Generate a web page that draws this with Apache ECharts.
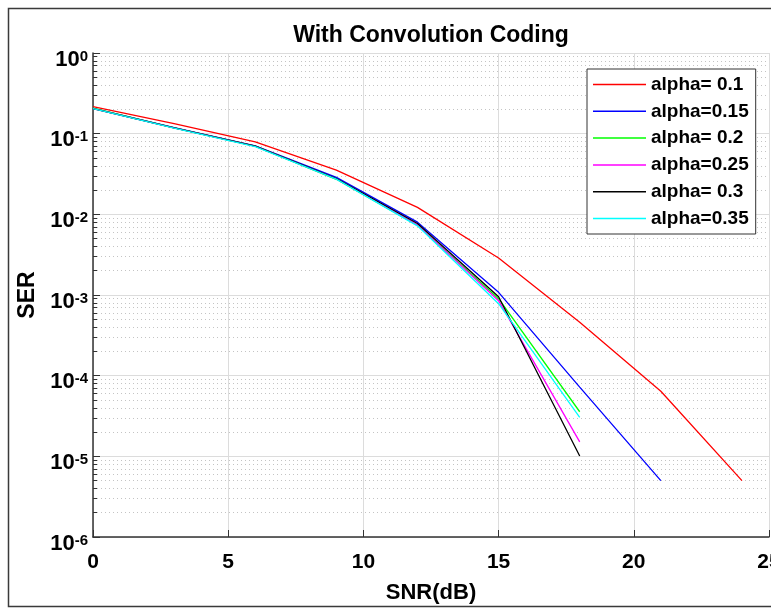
<!DOCTYPE html>
<html>
<head>
<meta charset="utf-8">
<script src="https://cdn.jsdelivr.net/npm/echarts@6/dist/echarts.min.js"></script>
<style>
  html, body { margin: 0; padding: 0; background: #fff; }
  #chart { width: 771px; height: 608px; }
</style>
</head>
<body>
<div id="chart"></div>
<script>
// SNR points (dB)
var snr = [0, 3, 6, 9, 12, 15, 18, 21, 24];

// SER, one array per roll-off factor
var ser01  = [0.216, 0.133, 0.079, 0.0353, 0.0122, 0.00288, 0.00046, 0.000064, 0.000005];
var ser015 = [0.206, 0.119, 0.0705, 0.0287, 0.0080, 0.00108, 0.000072, 0.000005];
var ser02  = [0.207, 0.118, 0.070, 0.0272, 0.0073, 0.00090, 0.0000357];
var ser025 = [0.205, 0.118, 0.070, 0.0275, 0.0074, 0.00085, 0.0000151];
var ser03  = [0.205, 0.118, 0.070, 0.0278, 0.0077, 0.00095, 0.0000101];
var ser035 = [0.205, 0.117, 0.069, 0.0273, 0.0072, 0.00078, 0.0000304];

var names = ['alpha= 0.1', 'alpha=0.15', 'alpha= 0.2', 'alpha=0.25', 'alpha= 0.3', 'alpha=0.35'];
var colors = ['#ff0000', '#0000ff', '#00ff00', '#ff00ff', '#000000', '#00ffff'];
var sets = [ser01, ser015, ser02, ser025, ser03, ser035];

// minor grid values 2..9 in each decade
var minorVals = [];
for (var e = -6; e < 0; e++) {
  for (var m = 2; m <= 9; m++) {
    minorVals.push(+(m * Math.pow(10, e)).toPrecision(3));
  }
}

var font = '"Liberation Sans", Arial, sans-serif';

var myChart = echarts.init(document.getElementById('chart'));

var series = sets.map(function (vals, i) {
  return {
    name: names[i],
    type: 'line',
    xAxisIndex: 0,
    yAxisIndex: 0,
    symbol: 'none',
    lineStyle: { color: colors[i], width: 1.3 },
    itemStyle: { color: colors[i] },
    data: vals.map(function (v, k) { return [snr[k], v]; })
  };
});

var option = {
  animation: false,
  textStyle: { fontFamily: font },
  graphic: [{
    type: 'rect',
    silent: true,
    z: -10,
    shape: { x: 8.5, y: 8.5, width: 800, height: 598 },
    style: { fill: 'none', stroke: '#3a3a3a', lineWidth: 1.5 }
  }],
  title: {
    text: 'With Convolution Coding',
    left: 431,
    top: 24,
    padding: 0,
    textAlign: 'center',
    textStyle: { fontFamily: font, fontWeight: 'bold', fontSize: 23, color: '#000' }
  },
  legend: {
    orient: 'vertical',
    left: 587,
    top: 69,
    padding: [6, 7, 6, 6],
    icon: 'rect',
    itemWidth: 53,
    itemHeight: 1.5,
    itemGap: 7.8,
    backgroundColor: '#fff',
    borderColor: '#333',
    borderWidth: 1,
    textStyle: { fontFamily: font, fontWeight: 'bold', fontSize: 19, lineHeight: 19, color: '#000' },
    data: names
  },
  grid: { left: 93, right: 2, top: 53, bottom: 71, containLabel: false, outerBoundsMode: 'none' },
  xAxis: {
    type: 'value',
    min: 0,
    max: 25,
    interval: 5,
    name: 'SNR(dB)',
    nameLocation: 'middle',
    nameGap: 45,
    nameTextStyle: { fontFamily: font, fontWeight: 'bold', fontSize: 22, color: '#000' },
    axisLine: { lineStyle: { color: '#333', width: 1.5 } },
    axisTick: { inside: true, length: 7, lineStyle: { color: '#333' } },
    axisLabel: { margin: 15, alignMaxLabel: 'center', fontFamily: font, fontWeight: 'bold', fontSize: 21, color: '#000' },
    splitLine: { show: true, lineStyle: { color: '#dcdcdc', width: 1 } }
  },
  yAxis: [{
    type: 'log',
    logBase: 10,
    min: 1e-6,
    max: 1,
    name: 'SER',
    nameLocation: 'middle',
    nameGap: 51,
    nameRotate: 90,
    nameTextStyle: { fontFamily: font, fontWeight: 'bold', fontSize: 23, color: '#000' },
    axisLine: { show: true, lineStyle: { color: '#333', width: 1.5 } },
    axisTick: { inside: true, length: 7, lineStyle: { color: '#333' } },
    axisLabel: {
      margin: 5,
      formatter: function (v) {
        var p = Math.round(Math.log10(v));
        return '{b|10}{s|' + p + '}';
      },
      rich: {
        b: { fontFamily: font, fontWeight: 'bold', fontSize: 22, lineHeight: 22, padding: [13, 0, 0, 0], color: '#000' },
        s: { fontFamily: font, fontWeight: 'bold', fontSize: 15, lineHeight: 15, padding: [7, 0, 0, 0], verticalAlign: 'top', color: '#000' }
      }
    },
    splitLine: { show: true, lineStyle: { color: '#dcdcdc', width: 1 } }
  }, {
    type: 'log',
    logBase: 10,
    min: 1e-6,
    max: 1,
    position: 'left',
    axisLine: { show: false },
    axisLabel: { show: false },
    axisTick: { show: true, inside: true, length: 4, customValues: minorVals, lineStyle: { color: '#333' } },
    splitLine: { show: true, lineStyle: { color: '#c4c4c4', width: 1, type: [1, 3] } }
  }],
  series: series
};

option && myChart.setOption(option);
</script>
</body>
</html>
